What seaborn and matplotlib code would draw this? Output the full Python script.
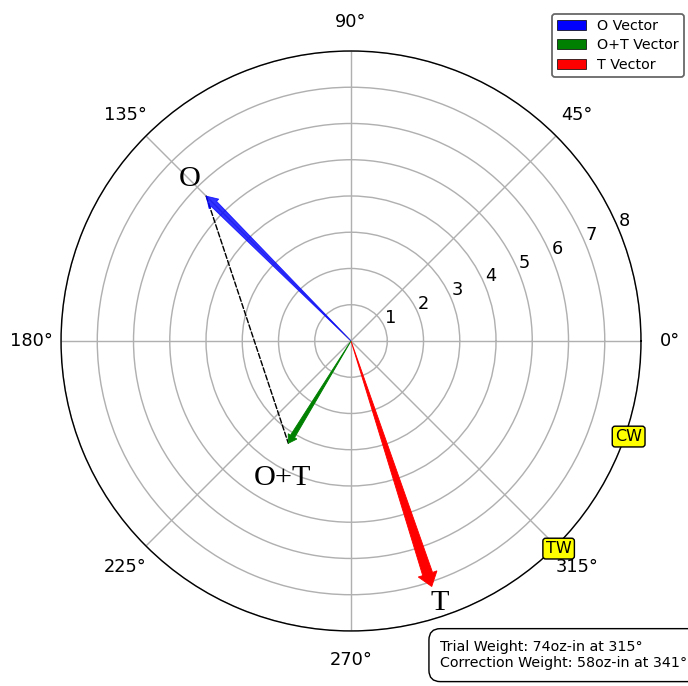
import numpy as np
import matplotlib
matplotlib.use("Agg")
import matplotlib.pyplot as plt
import matplotlib.patches as mpatches
import seaborn as sns

# ---- data ----
vector_names = ["O", "T", "O+T"]
vector_angles_deg = [135.0, 288.2, 238.5]
vector_magnitudes = [5.65, 7.13, 3.31]
vector_colors = ["blue", "red", "green"]
legend_labels = ["O Vector", "O+T Vector", "T Vector"]
legend_colors = ["blue", "green", "red"]
weight_tags = ["TW", "CW"]
weight_angles_deg = [315.0, 341.0]
r_ticks = [1, 2, 3, 4, 5, 6, 7, 8]
theta_ticks_deg = [0, 45, 90, 135, 180, 225, 270, 315]
info_text = "Trial Weight: 74oz-in at 315°\nCorrection Weight: 58oz-in at 341°"

sns.set_style("white", rc={"text.color": "black", "xtick.color": "black",
                           "ytick.color": "black", "axes.edgecolor": "black"})
plt.rcParams["font.family"] = ["DejaVu Sans"]

DPI = 128
fig = plt.figure(figsize=(688 / DPI, 686 / DPI), dpi=DPI)
ax = fig.add_axes([0.0887, 0.0802, 0.843, 0.8455], projection="polar")
ax.set_rlim(0, 8)
ax.set_rticks(r_ticks)
ax.set_thetagrids(theta_ticks_deg, [f"{t}°" for t in theta_ticks_deg], fontsize=10)
ax.tick_params(axis="x", pad=6)
ax.tick_params(axis="y", labelsize=10)
ax.grid(True, color="#b0b0b0", linewidth=0.8)

styles = {
    "O": dict(width=0.038, head_width=0.07, head_length=0.3, alpha=0.8),
    "T": dict(width=0.042, head_width=0.08, head_length=0.36, alpha=1.0),
    "O+T": dict(width=0.042, head_width=0.09, head_length=0.22, alpha=1.0),
}
# label placement relative to each vector tip: (angle offset in deg, radius offset)
label_offsets = {"O": (0.0, 0.65), "T": (0.5, 0.5), "O+T": (5.0, 0.9)}

for name, ang, mag, col in zip(vector_names, vector_angles_deg, vector_magnitudes, vector_colors):
    th = np.deg2rad(ang)
    st = styles[name]
    ax.arrow(th, 0, 0, mag, width=st["width"], head_width=st["head_width"],
             head_length=st["head_length"], length_includes_head=True,
             facecolor=col, edgecolor=col, alpha=st["alpha"], linewidth=0.5, zorder=5)
    dth, dr = label_offsets[name]
    ax.text(np.deg2rad(ang + dth), mag + dr, name, fontsize=17, family="Liberation Serif",
            ha="center", va="center", zorder=6)

# dashed line from O tip to O+T tip (straight in display space)
iO = vector_names.index("O")
iS = vector_names.index("O+T")
ax.annotate("", xy=(np.deg2rad(vector_angles_deg[iS]), vector_magnitudes[iS]),
            xytext=(np.deg2rad(vector_angles_deg[iO]), vector_magnitudes[iO]),
            arrowprops=dict(arrowstyle="-", linestyle="--", color="black", lw=0.8,
                            shrinkA=0, shrinkB=0), zorder=4)

for tag, ang in zip(weight_tags, weight_angles_deg):
    ax.text(np.deg2rad(ang), 8.1, tag, fontsize=9, ha="center", va="center", zorder=7,
            bbox=dict(boxstyle="round,pad=0.18", facecolor="yellow", edgecolor="black", linewidth=0.8),
            clip_on=False)

handles = [mpatches.Patch(facecolor=c, edgecolor="black", linewidth=0.4, label=l)
           for l, c in zip(legend_labels, legend_colors)]
fig.legend(handles=handles, loc="upper right", bbox_to_anchor=(0.994, 0.980), fontsize=8,
           borderaxespad=0, fancybox=True, edgecolor="0.4", framealpha=1,
           labelspacing=0.4, borderpad=0.35)

fig.text(0.64, 0.045, info_text, fontsize=8, ha="left", va="center",
         bbox=dict(boxstyle="round,pad=0.8", facecolor="white", edgecolor="black", linewidth=0.8))

fig.savefig("out.png", dpi=DPI)
